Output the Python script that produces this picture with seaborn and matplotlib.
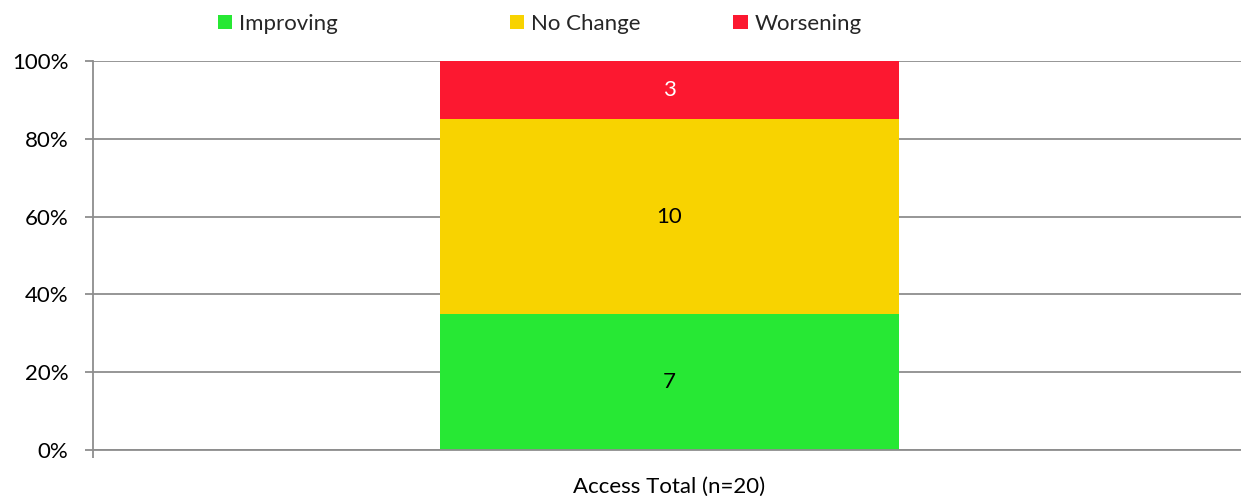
import numpy as np
import pandas as pd
import matplotlib
matplotlib.use("Agg")
import matplotlib.pyplot as plt
import seaborn as sns
from matplotlib.patches import Patch
from matplotlib.ticker import PercentFormatter, FixedLocator

# data
category = ["Access Total (n=20)"]
series = ["Improving", "No Change", "Worsening"]
counts = [7, 10, 3]
colors = ["#27E834", "#F8D300", "#FC1830"]
label_colors = ["black", "black", "white"]

sns.set_theme(style="white")
plt.rcParams["font.family"] = ["Lato", "DejaVu Sans"]

FS = 16
total = sum(counts)
pct = [c / total * 100 for c in counts]
tops = np.cumsum(pct)
bottoms = tops - np.array(pct)

fig = plt.figure(figsize=(12.41, 4.96), dpi=100)
ax = fig.add_axes([0.0752, 0.0927, 0.9283, 0.7843])

# grid first so bars sit on top
ax.set_axisbelow(True)
ax.yaxis.grid(True, color="#8E8E8E", linewidth=1.3)

# stacked: draw tallest cumulative first
for i in reversed(range(len(series))):
    df = pd.DataFrame({"cat": category, "val": [tops[i]]})
    sns.barplot(data=df, x="cat", y="val", color=colors[i], width=0.398,
                saturation=1, linewidth=0, edgecolor="none", ax=ax, zorder=2)

for i in range(len(series)):
    ax.text(0, bottoms[i] + pct[i] / 2, str(counts[i]), ha="center", va="center",
            fontsize=FS, color=label_colors[i], zorder=3)

ax.set_xlim(-0.5, 0.5)
ax.set_ylim(0, 100)
ax.set_yticks([0, 20, 40, 60, 80, 100])
ax.yaxis.set_major_formatter(PercentFormatter(decimals=0))
ax.set_xlabel("")
ax.set_ylabel("")

for s in ["top", "right"]:
    ax.spines[s].set_visible(False)
for s in ["left", "bottom"]:
    ax.spines[s].set_color("#8E8E8E")
    ax.spines[s].set_linewidth(1.3)

ax.tick_params(axis="y", left=True, length=6, width=1.3, color="#8E8E8E",
               labelsize=FS, labelcolor="black", pad=12)
ax.tick_params(axis="x", which="major", bottom=False, top=False, length=0,
               labelsize=FS, labelcolor="black", pad=19)
ax.xaxis.set_minor_locator(FixedLocator([-0.5]))
ax.tick_params(axis="x", which="minor", bottom=True, top=False, length=6,
               width=1.3, color="#8E8E8E")

# legend entries placed across the top like the original
legend_x = [0.1757, 0.411, 0.5907]
for i in range(len(series)):
    fig.legend(handles=[Patch(facecolor=colors[i], edgecolor="none", label=series[i])],
               loc="center left", bbox_to_anchor=(legend_x[i], 0.952),
               frameon=False, fontsize=FS, handlelength=0.65, handleheight=0.65,
               handletextpad=0.3, borderpad=0, borderaxespad=0)

fig.savefig("out.png", dpi=100)
